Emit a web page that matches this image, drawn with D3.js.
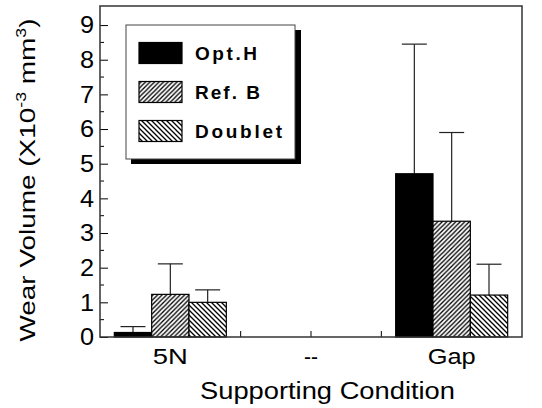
<!DOCTYPE html>
<html>
<head>
<meta charset="utf-8">
<script src="https://cdn.jsdelivr.net/npm/d3@7"></script>
<style>
  body { margin: 0; background: #fff; }
  text { font-family: Arial, "Liberation Sans", sans-serif; }
</style>
</head>
<body>
<svg width="542" height="408"></svg>
<script>
var categories = ["5N", "--", "Gap"];
var series = ["Opt.H", "Ref. B", "Doublet"];
// wear volume means and upper error bar ends, per category (null = no bar)
var optH = [0.13, null, 4.71];
var refB = [1.23, null, 3.34];
var doublet = [1.0, null, 1.21];
var optHErr = [0.30, null, 8.45];
var refBErr = [2.11, null, 5.90];
var doubletErr = [1.36, null, 2.10];
var yTicks = [0, 1, 2, 3, 4, 5, 6, 7, 8, 9];

var svg = d3.select("svg"),
    margin = {top: 6, right: 20, bottom: 71, left: 100},
    width = 542 - margin.left - margin.right,
    height = 408 - margin.top - margin.bottom,
    g = svg.append("g").attr("transform", "translate(" + margin.left + "," + margin.top + ")");

var defs = svg.append("defs");
function hatch(id, size, dir) {
  var p = defs.append("pattern")
      .attr("id", id)
      .attr("patternUnits", "userSpaceOnUse")
      .attr("width", size).attr("height", size);
  p.append("rect").attr("width", size).attr("height", size).attr("fill", "#fff");
  var d = dir > 0
    ? "M0," + size + "L" + size + ",0 M-1,1 L1,-1 M" + (size - 1) + "," + (size + 1) + "L" + (size + 1) + "," + (size - 1)
    : "M0,0L" + size + "," + size + " M-1," + (size - 1) + "L1," + (size + 1) + " M" + (size - 1) + ",-1L" + (size + 1) + ",1";
  p.append("path").attr("d", d).attr("stroke", "#000").attr("stroke-width", 1.3);
}
hatch("hatchRef", 4.5, 1);
hatch("hatchDbl", 5, -1);

var fills = ["#000", "url(#hatchRef)", "url(#hatchDbl)"];
var values = [optH, refB, doublet];
var errs = [optHErr, refBErr, doubletErr];

var x = d3.scaleBand().domain(categories).range([0, width]);
var xs = d3.scaleBand().domain(series).range([0, 112]);
var y = d3.scaleLinear().domain([0, 9.55]).range([height, 0]);

var data = [];
categories.forEach(function(c, i) {
  series.forEach(function(s, j) {
    if (values[j][i] != null) data.push({cat: c, ser: s, j: j, v: values[j][i], e: errs[j][i]});
  });
});

function bx(d) { return x(d.cat) + x.bandwidth() / 2 - 56 + xs(d.ser); }

// x ticks (inside, at category centres and boundaries)
var xt = [];
categories.forEach(function(c) { xt.push(x(c)); xt.push(x(c) + x.bandwidth() / 2); });
g.selectAll(".xt").data(xt.slice(1)).enter().append("line")
    .attr("x1", function(d) { return d; }).attr("x2", function(d) { return d; })
    .attr("y1", height).attr("y2", height - 6)
    .attr("stroke", "#000").attr("stroke-width", 1);

// error bars
var eb = g.selectAll(".err").data(data).enter().append("g");
eb.append("line")
    .attr("x1", function(d) { return bx(d) + xs.bandwidth() / 2; })
    .attr("x2", function(d) { return bx(d) + xs.bandwidth() / 2; })
    .attr("y1", function(d) { return y(d.v); })
    .attr("y2", function(d) { return y(d.e); })
    .attr("stroke", "#222").attr("stroke-width", 1.2);
eb.append("line")
    .attr("x1", function(d) { return bx(d) + xs.bandwidth() / 2 - 12.5; })
    .attr("x2", function(d) { return bx(d) + xs.bandwidth() / 2 + 12.5; })
    .attr("y1", function(d) { return y(d.e); })
    .attr("y2", function(d) { return y(d.e); })
    .attr("stroke", "#222").attr("stroke-width", 1.2);

// bars
g.selectAll(".bar").data(data).enter().append("rect")
    .attr("x", bx)
    .attr("y", function(d) { return y(d.v); })
    .attr("width", xs.bandwidth())
    .attr("height", function(d) { return height - y(d.v); })
    .attr("fill", function(d) { return fills[d.j]; })
    .attr("stroke", "#000").attr("stroke-width", 1.2);

// y axis ticks inside
var yAxis = d3.axisRight(y).tickValues(yTicks).tickSize(8).tickFormat("");
g.append("g").call(yAxis).call(function(a) { a.select(".domain").remove(); });
var minor = d3.range(0.5, 9.5, 1);
g.selectAll(".minor").data(minor).enter().append("line")
    .attr("x1", 0).attr("x2", 4)
    .attr("y1", function(d) { return y(d); }).attr("y2", function(d) { return y(d); })
    .attr("stroke", "#000");
g.selectAll(".ylab").data(yTicks).enter().append("text")
    .attr("transform", function(d) { return "translate(-6," + y(d) + ") scale(1.1,1)"; })
    .attr("dy", "0.36em").attr("text-anchor", "end")
    .attr("font-size", 23).text(function(d) { return d; });

// frame
g.append("rect").attr("width", width).attr("height", height)
    .attr("fill", "none").attr("stroke", "#333").attr("stroke-width", 1.5);

// x labels
var xlw = {"5N": 35, "--": 14, "Gap": 48};
g.selectAll(".xlab").data(categories).enter().append("text")
    .attr("x", function(d) { return x(d) + x.bandwidth() / 2 - xlw[d] / 2; })
    .attr("y", height + 27)
    .attr("textLength", function(d) { return xlw[d]; })
    .attr("lengthAdjust", "spacingAndGlyphs")
    .attr("font-size", 22).text(function(d) { return d; });

svg.append("text").attr("x", 200).attr("y", 399)
    .attr("textLength", 255).attr("lengthAdjust", "spacingAndGlyphs")
    .attr("font-size", 23).text("Supporting Condition");

var yl = svg.append("text")
    .attr("transform", "translate(35,180) rotate(-90) scale(1.27,1)")
    .attr("text-anchor", "middle").attr("font-size", 22);
yl.append("tspan").text("Wear Volume (X10");
yl.append("tspan").attr("dy", -9).attr("font-size", 14).text("-3");
yl.append("tspan").attr("dy", 9).text(" mm");
yl.append("tspan").attr("dy", -9).attr("font-size", 14).text("3");
yl.append("tspan").attr("dy", 9).text(")");

// legend
var lg = svg.append("g").attr("transform", "translate(126,25)");
lg.append("rect").attr("x", 5).attr("y", 5).attr("width", 170).attr("height", 134).attr("fill", "#000");
lg.append("rect").attr("width", 169).attr("height", 134).attr("fill", "#fff").attr("stroke", "#444").attr("stroke-width", 1);
var legW = [62, 65, 87];
series.forEach(function(s, j) {
  var ly = 17.5 + j * 39;
  lg.append("rect").attr("x", 13).attr("y", ly).attr("width", 43).attr("height", 21)
      .attr("fill", fills[j]).attr("stroke", "#000").attr("stroke-width", 1.2);
  lg.append("text").attr("x", 69).attr("y", ly + 17)
      .attr("font-size", 19).attr("font-weight", "bold")
      .attr("textLength", legW[j]).attr("lengthAdjust", "spacing")
      .text(s);
});
</script>
</body>
</html>
